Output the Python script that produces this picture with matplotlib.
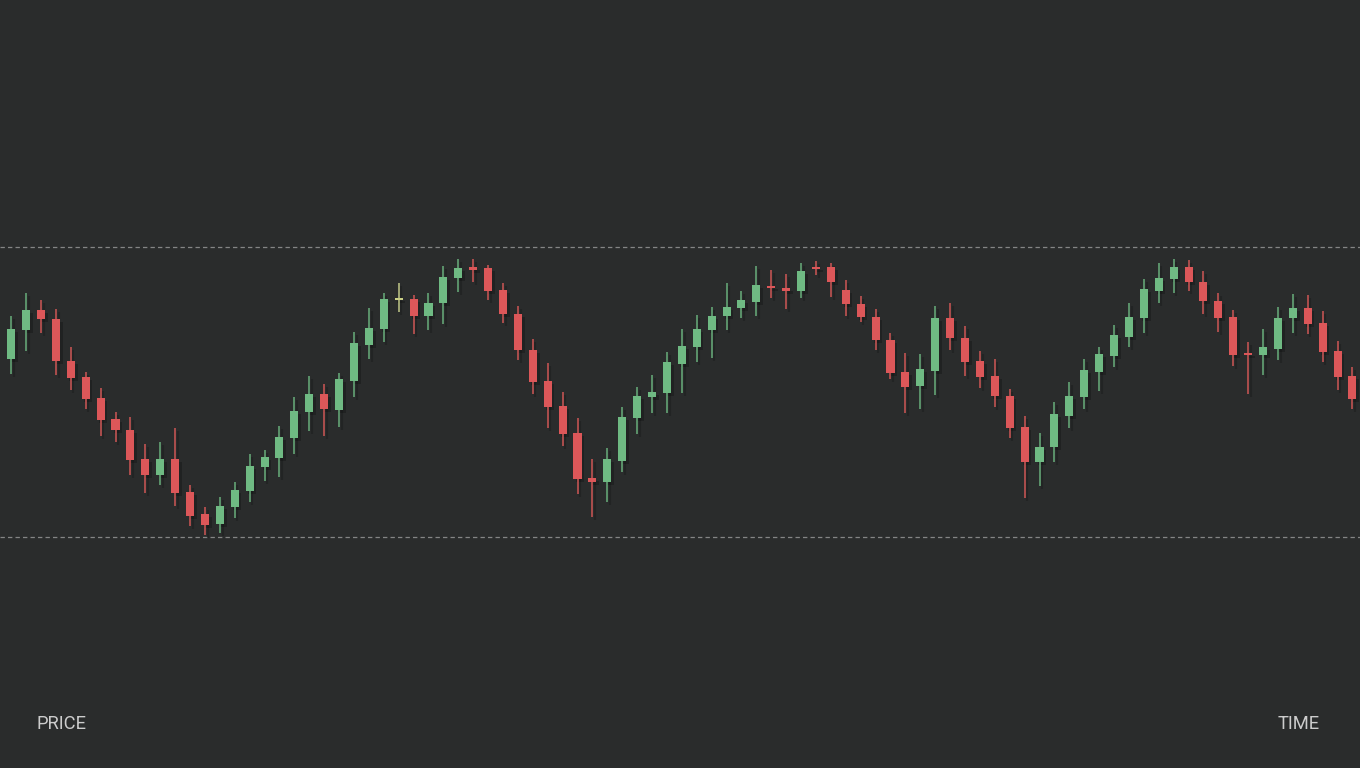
import numpy as np
import matplotlib
matplotlib.use("Agg")
import matplotlib.pyplot as plt

# OHLC data (price units)
opens = [441, 470, 490, 481, 439, 423, 402, 381, 370, 341, 325, 341, 308, 286, 276,
         293, 309, 333, 342, 362, 388, 406, 390, 419, 455, 471, 500, 501, 484, 497,
         522, 533, 532, 510, 486, 450, 419, 394, 367, 322, 318, 339, 382, 403, 407,
         436, 453, 470, 484, 492, 498, 514, 512, 509, 532, 533, 510, 496, 483, 460,
         428, 414, 429, 482, 462, 439, 424, 404, 373, 338, 353, 384, 403, 428, 444,
         463, 482, 509, 521, 533, 518, 499, 483, 447, 445, 451, 482, 492, 477, 449, 424]
highs = [484, 507, 500, 491, 453, 428, 412, 388, 383, 356, 358, 372, 315, 293, 303,
         318, 346, 350, 374, 403, 424, 416, 427, 468, 492, 507, 517, 505, 507, 534,
         541, 541, 535, 517, 494, 461, 437, 408, 382, 341, 352, 393, 413, 425, 448,
         471, 485, 493, 517, 509, 534, 530, 526, 537, 539, 537, 520, 504, 491, 467,
         447, 446, 494, 497, 474, 449, 441, 411, 384, 367, 398, 418, 441, 453, 475,
         497, 521, 537, 541, 540, 529, 507, 490, 458, 471, 493, 506, 505, 489, 459, 433]
lows = [426, 449, 467, 425, 410, 391, 364, 358, 325, 307, 315, 294, 274, 265, 267,
        282, 298, 319, 323, 346, 369, 364, 373, 403, 441, 458, 488, 466, 470, 476,
        508, 518, 500, 477, 440, 406, 372, 354, 306, 283, 298, 328, 366, 387, 387,
        407, 438, 442, 470, 482, 484, 502, 491, 502, 525, 503, 484, 478, 450, 421,
        387, 391, 405, 450, 424, 412, 393, 362, 302, 314, 338, 372, 391, 409, 433,
        453, 467, 497, 507, 509, 486, 468, 434, 406, 425, 440, 467, 466, 438, 410, 391]
closes = [471, 490, 481, 439, 422, 401, 380, 370, 340, 325, 341, 307, 284, 275, 294,
          310, 334, 343, 363, 389, 406, 391, 421, 457, 472, 501, 502, 484, 497, 523,
          532, 530, 509, 486, 450, 418, 393, 366, 321, 318, 341, 383, 404, 408, 438,
          454, 471, 484, 493, 500, 515, 512, 509, 529, 531, 518, 496, 483, 460, 427,
          413, 431, 482, 462, 438, 423, 404, 372, 338, 353, 386, 404, 430, 446, 465,
          483, 511, 522, 533, 518, 499, 482, 445, 445, 453, 482, 492, 476, 448, 423, 401]

range_top = 553      # upper dashed level
range_bottom = 263   # lower dashed level

BG = "#2a2c2c"
UP = "#6fba83"
DOWN = "#dc5759"
UP_WICK = "#5f9a6f"
DOWN_WICK = "#b5504f"

fig = plt.figure(figsize=(13.6, 7.68), dpi=100, facecolor=BG)
ax = fig.add_axes([0, 0, 1, 1])
ax.set_facecolor(BG)

o = np.array(opens, float)
h = np.array(highs, float)
l = np.array(lows, float)
c = np.array(closes, float)
x = np.arange(len(o))
up = c >= o

body_bottom = np.minimum(o, c)
body_h = np.maximum(np.abs(c - o), 1.8)
width = 0.54

# dashed range lines
for lvl in (range_top, range_bottom):
    ax.axhline(lvl, color="#9c9c9c", lw=0.9, ls=(0, (3.5, 2.5)), alpha=0.8, zorder=1)

# soft shadows
ax.vlines(x + 0.18, l - 3, h - 3, color="black", lw=1.6, alpha=0.18, zorder=2)
ax.bar(x + 0.18, body_h, bottom=body_bottom - 3, width=width, color="black",
       alpha=0.22, zorder=2, linewidth=0)

wick_colors = [UP_WICK if u else DOWN_WICK for u in up]
body_colors = [UP if u else DOWN for u in up]
body_colors[26] = "#c9cf86"
wick_colors[26] = "#aab07a"
ax.vlines(x, l, h, colors=wick_colors, lw=1.3, zorder=3)
ax.bar(x, body_h, bottom=body_bottom, width=width, color=body_colors,
       linewidth=0, zorder=4)

ax.set_xlim(-0.7515, 90.505)
ax.set_ylim(32, 800)
ax.axis("off")

fig.text(37 / 1360, 1 - 724 / 768, "PRICE", color="#cccccc", fontsize=13.2,
         family=["Roboto", "DejaVu Sans"], ha="left", va="center")
fig.text(1320 / 1360, 1 - 724 / 768, "TIME", color="#cccccc", fontsize=13.2,
         family=["Roboto", "DejaVu Sans"], ha="right", va="center")

fig.savefig("out.png", dpi=100, facecolor=BG)
